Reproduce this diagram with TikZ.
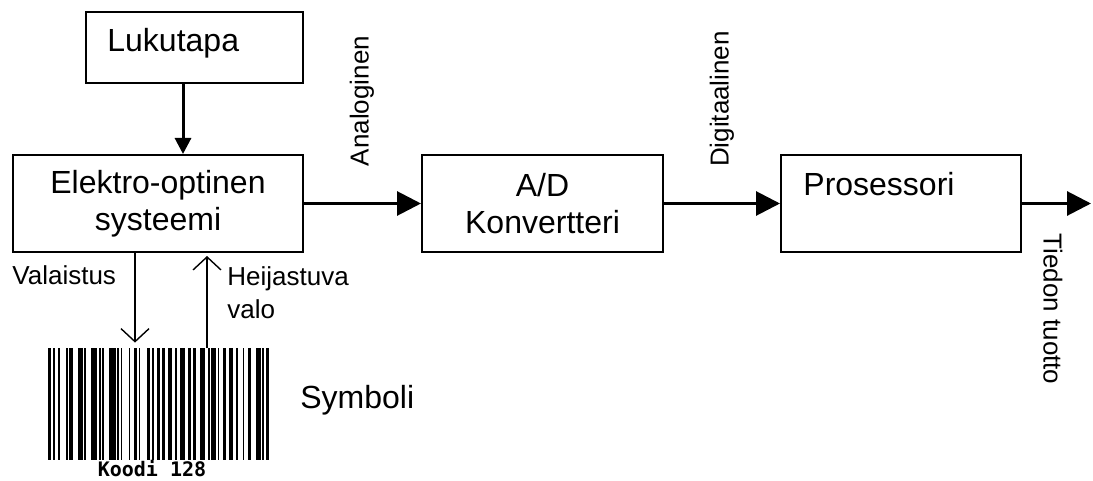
\documentclass[tikz,border=0pt]{standalone}
\usepackage{fontspec}
\setmainfont{Liberation Sans}
\newfontfamily\codefont{DejaVu Sans Mono}
\usetikzlibrary{arrows.meta}
\usetikzlibrary{positioning}

\begin{document}
\begin{tikzpicture}[x=0.5pt,y=-0.5pt,
  blk/.style={draw,line width=1pt,inner sep=0pt},
  big/.style={font=\fontsize{16}{18.4}\selectfont},
  small/.style={font=\fontsize{13}{16.5}\selectfont,inner sep=0pt},
  flow/.style={line width=1.5pt,-{Triangle[length=12pt,width=12pt]}},
  ray/.style={line width=0.7pt,-{Straight Barb[length=6.5pt,width=14pt]}}]
  \def\bl{48};   % left edge of the bars
  \def\bt{348};  % top of the bars
  \def\bh{112};  % bar height
  \def\m{1.649}; % module width
  \useasboundingbox (0,0) rectangle (1093,481);
  % blocks
  \node[blk,minimum width=108.5pt,minimum height=35.5pt] (luk) at (194.5,47.5) {};
  \node[big,anchor=base west,inner sep=0pt] (luk-t) at (107,52) {Lukutapa};
  \node[blk,big,align=center,minimum width=145pt,minimum height=48.5pt] (eo) at (158,203.5) {Elektro-optinen\\systeemi};
  \node[blk,big,align=center,minimum width=120.5pt,minimum height=48.5pt] (ad) at (542.5,203.5) {A/D\\Konvertteri};
  \node[blk,minimum width=120pt,minimum height=48.5pt] (pro) at (901,203.5) {};
  \node[big,anchor=base west,inner sep=0pt] (pro-t) at (803,196) {Prosessori};
  \coordinate (out) at (1091,203.5);
  % signal chain
  \draw[flow,-{Triangle[length=8pt,width=8pt]}] ([xshift=-5.75pt]luk.south) -- ([xshift=-5.75pt]luk.south |- eo.north);
  \draw[flow] (eo) -- (ad);
  \draw[flow] (ad) -- (pro);
  \draw[flow] (pro) -- (out);
  \node[small,rotate=90] (ana) at (362,101) {Analoginen};
  \node[small,rotate=90] (dig) at (722,99) {Digitaalinen};
  \node[small,rotate=-90] (tuo) at (1053,309) {Tiedon tuotto};
  % code 128 symbol
  \node[inner sep=0pt,minimum width=110.5pt,minimum height=56pt] (bar) at (158.5,404) {};
  \xdef\bx{\bl}
  \foreach \w [count=\i] in {2,1,1,2,1,4, 1,1,2,3,3,1, 1,3,4,1,1,1, 1,3,4,1,1,1,
      1,4,1,2,2,1, 1,4,2,1,1,2, 2,1,2,2,2,2, 1,2,3,2,2,1, 2,2,3,2,1,1,
      3,1,1,2,2,2, 2,2,1,3,1,2, 2,3,3,1,1,1,2}{
    \ifodd\i \fill (\bx,\bt) rectangle ++(\w*\m,\bh);\fi
    \pgfmathparse{\bx+\w*\m}\xdef\bx{\pgfmathresult}
  }
  \node[anchor=base,inner sep=0pt,font=\codefont\bfseries\fontsize{10}{12}\selectfont] (kood) at (152,476) {Koodi 128};
  \node[big,anchor=base west,inner sep=0pt] (sym) at (300,408) {Symboli};
  % light to and from the symbol
  \draw[ray] ([xshift=-11.75pt]bar.north |- eo.south) -- ([xshift=-11.75pt,yshift=2.5pt]bar.north);
  \draw[ray] ([xshift=24.25pt]bar.north) -- ([xshift=24.25pt,yshift=-1.5pt]bar.north |- eo.south);
  \node[small,anchor=base west] (val) at (12,285) {Valaistus};
  \node[small,anchor=north west,align=left] (hei) at (227,266) {Heijastuva\\valo};
\end{tikzpicture}
\end{document}
